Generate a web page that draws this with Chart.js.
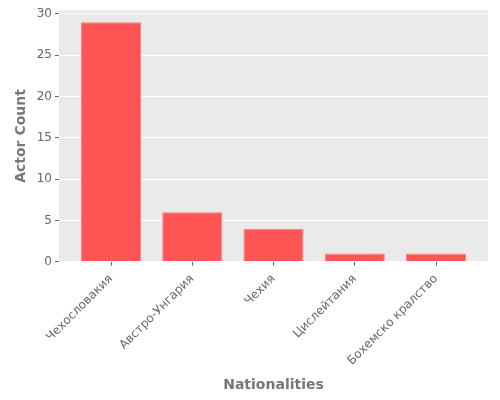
<!DOCTYPE html>
<html>
<head>
<meta charset="utf-8">
<script src="https://cdn.jsdelivr.net/npm/chart.js@4"></script>
<style>
html,body{margin:0;padding:0;background:#fff;}
#wrap{width:500px;height:400px;}
</style>
</head>
<body>
<div id="wrap"><canvas id="c" width="500" height="400"></canvas></div>
<script>
const categories = ["Чехословакия", "Австро-Унгария", "Чехия", "Цислейтания", "Бохемско кралство"];
const actorCounts = [29, 6, 4, 1, 1];
const yTicks = [0, 5, 10, 15, 20, 25, 30];

const points = categories.map((c, i) => ({x: i, y: actorCounts[i]}));

const bgPlugin = {
  id: 'bg',
  beforeDraw(chart) {
    const {ctx, chartArea: a} = chart;
    ctx.save();
    ctx.fillStyle = '#EAEAEA';
    ctx.fillRect(a.left, a.top, a.right - a.left, a.bottom - a.top);
    ctx.restore();
  }
};

const font = {family: 'DejaVu Sans', size: 12};

new Chart(document.getElementById('c'), {
  type: 'bar',
  data: {
    datasets: [{
      data: points,
      backgroundColor: '#FF5555',
      borderColor: '#F58080',
      borderWidth: 1,
      borderSkipped: 'bottom',
      categoryPercentage: 1,
      barPercentage: 0.74
    }]
  },
  options: {
    responsive: false,
    animation: false,
    devicePixelRatio: 1,
    layout: {padding: {top: 10, right: 12, bottom: 6, left: 13}},
    plugins: {legend: {display: false}, tooltip: {enabled: false}},
    scales: {
      x: {
        type: 'linear',
        offset: false,
        min: -0.64,
        max: 4.64,
        afterBuildTicks(scale) { scale.ticks = categories.map((c, i) => ({value: i})); },
        ticks: {
          autoSkip: false,
          minRotation: 45,
          maxRotation: 45,
          color: '#666',
          font: font,
          padding: 6,
          callback: (v) => categories[v]
        },
        grid: {display: true, offset: false, drawOnChartArea: false, color: '#666', tickColor: '#666', tickLength: 4},
        border: {display: false},
        title: {display: true, text: 'Nationalities', color: '#777', font: {family: 'DejaVu Sans', size: 14, weight: 'bold'}, padding: {top: 3, bottom: 0}}
      },
      y: {
        min: 0,
        max: 30.45,
        afterBuildTicks(scale) { scale.ticks = yTicks.map(v => ({value: v})); },
        afterFit(scale) { scale.width = 46; },
        ticks: {color: '#666', font: font, padding: 3},
        grid: {color: '#FFFFFF', lineWidth: 1, tickColor: '#666', tickLength: 4},
        border: {display: false},
        title: {display: true, text: 'Actor Count', color: '#777', font: {family: 'DejaVu Sans', size: 14, weight: 'bold'}, padding: {top: 0, bottom: 4}}
      }
    }
  },
  plugins: [bgPlugin]
});
</script>
</body>
</html>
